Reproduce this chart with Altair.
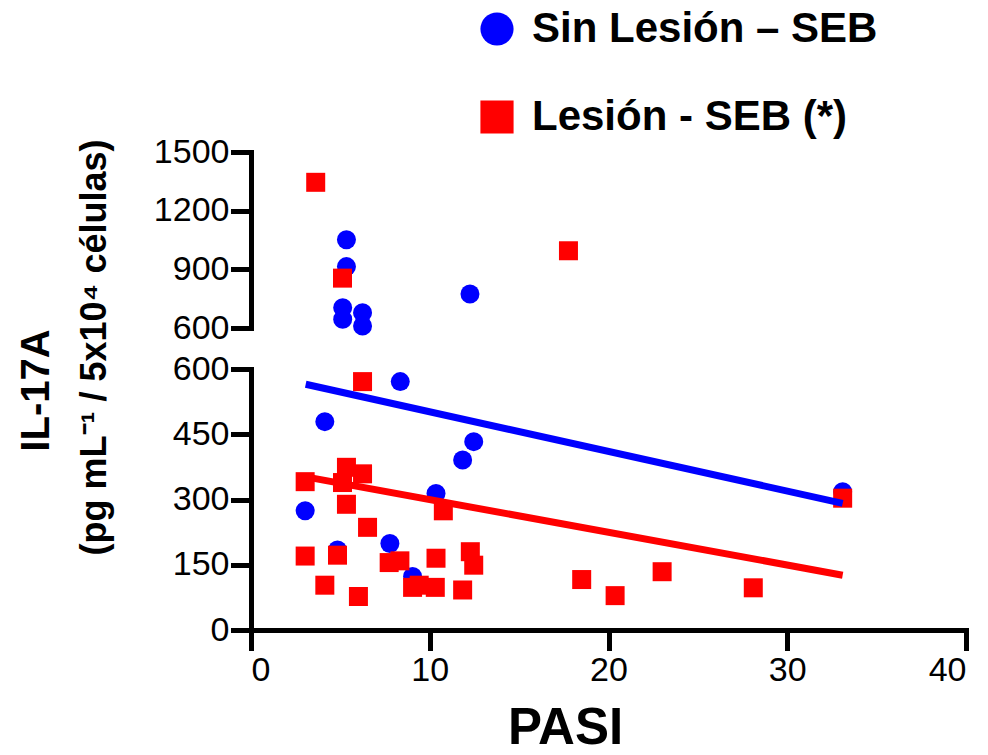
import altair as alt
import pandas as pd

FONT = "Liberation Sans"

groups = ["Sin Lesión – SEB", "Lesión - SEB (*)"]
colors = ["#0000FF", "#FF0000"]
shapes = ["circle", "square"]

# Sin Lesión – SEB (blue circles)
blue_x = [8.35, 4.13, 12.46, 11.84, 10.35, 3.03, 7.77, 4.84, 9.04, 33.1,
          5.34, 5.34, 5.13, 5.13, 6.24, 6.24, 12.25]
blue_y = [571, 479, 433, 391, 314, 274, 199, 184, 123, 318,
          1051, 914, 704, 645, 678, 610, 774]

# Lesión - SEB (*) (red squares)
red_x = [3.62, 5.12, 17.76, 6.24, 3.03, 5.34, 6.24, 5.12, 5.34, 6.52,
         10.76, 3.03, 4.84, 7.73, 8.33, 10.35, 12.27, 12.46, 4.13, 6.01,
         9.04, 9.41, 10.31, 11.84, 18.5, 20.37, 23.0, 28.1, 33.1]
red_y = [1345, 855, 995, 571, 341, 374, 359, 339, 289, 236,
         274, 170, 172, 155, 159, 165, 180, 149, 103, 77,
         98, 103, 98, 92, 116, 79, 134, 97, 303]

# regression lines (end points)
blue_line_x = [3.06, 33.1]
blue_line_y = [565, 291]
red_line_x = [3.06, 33.1]
red_line_y = [352, 126]

x_ticks = [0, 10, 20, 30, 40]
low_ticks = [0, 150, 300, 450, 600]
high_ticks = [600, 900, 1200, 1500]

title_line1 = "IL-17A"
title_line2 = "(pg mL\u207b\u00b9 / 5x10\u2074 células)"

pts = pd.DataFrame({
    "PASI": blue_x + red_x,
    "IL17A": blue_y + red_y,
    "grupo": [groups[0]] * len(blue_x) + [groups[1]] * len(red_x),
    "orden": [0] * len(blue_x) + [1] * len(red_x),
})
lines = pd.DataFrame({
    "PASI": blue_line_x + red_line_x,
    "IL17A": blue_line_y + red_line_y,
    "grupo": [groups[0]] * 2 + [groups[1]] * 2,
})

W = 715
legend = alt.Legend(
    title=None, orient="none", legendX=225, legendY=-144,
    labelFont=FONT, labelFontSize=42, labelFontWeight="bold", labelColor="black",
    labelLimit=0, symbolSize=1100, symbolStrokeWidth=0, symbolOpacity=1,
    rowPadding=46, labelOffset=14,
)
color = alt.Color("grupo:N", scale=alt.Scale(domain=groups, range=colors), legend=legend)
shape = alt.Shape("grupo:N", scale=alt.Scale(domain=groups, range=shapes), legend=legend)

xs = alt.Scale(domain=[0, 40], nice=False)

# upper panel (600-1500)
up_pts = alt.Chart(pts).transform_filter("datum.IL17A > 600").mark_point(
    filled=True, size=361, opacity=1
).encode(
    x=alt.X("PASI:Q", scale=xs, axis=None),
    y=alt.Y("IL17A:Q", scale=alt.Scale(domain=[600, 1500], nice=False, zero=False),
            axis=alt.Axis(values=high_ticks, format="d", title=title_line1,
                          titleFont=FONT, titleFontSize=40, titleFontWeight="bold",
                          titleAngle=270, titleAlign="center", titleBaseline="bottom",
                          titleX=-195, titleY=238)),
    color=color, shape=shape, order=alt.Order("orden:Q"),
)
upper = up_pts.properties(width=W, height=176)

# lower panel (0-600)
lo_x = alt.X("PASI:Q", scale=xs,
             axis=alt.Axis(values=x_ticks, title="PASI", labelFontSize=34,
                           labelPadding=5, titleFont=FONT, titleFontSize=51,
                           titleFontWeight="bold", titleX=314, titleY=113,
                           titleAlign="center", titleBaseline="alphabetic"))
lo_y = alt.Y("IL17A:Q", scale=alt.Scale(domain=[0, 600], nice=False),
             axis=alt.Axis(values=low_ticks, format="d", title=title_line2,
                           titleFont=FONT, titleFontSize=36, titleFontWeight="bold",
                           titleAngle=270, titleAlign="center",
                           titleBaseline="bottom", titleX=-138, titleY=-22))
lo_pts = alt.Chart(pts).transform_filter("datum.IL17A <= 600").mark_point(
    filled=True, size=361, opacity=1
).encode(x=lo_x, y=lo_y, color=color, shape=shape, order=alt.Order("orden:Q"))
lo_lines = alt.Chart(lines).mark_line(strokeWidth=7).encode(
    x=lo_x, y=lo_y, color=alt.Color("grupo:N", scale=alt.Scale(domain=groups, range=colors), legend=None),
    detail="grupo:N",
)
lower = alt.layer(lo_pts, lo_lines).properties(width=W, height=261)

chart = alt.vconcat(upper, lower, spacing=41, bounds="flush").resolve_scale(
    x="shared", color="shared", shape="shared"
).configure_view(stroke=None).configure_axis(
    grid=False, domainColor="black", domainWidth=5, tickColor="black", tickWidth=5,
    tickSize=18, labelFont=FONT, labelFontSize=34, labelColor="black", labelPadding=4,
    titleColor="black", domainCap="square", tickCap="square",
).properties(padding={"left": 16, "top": 8, "right": 5, "bottom": 0}, background="white")

chart.save("out.html", embed_options={"renderer": "svg", "actions": False})
